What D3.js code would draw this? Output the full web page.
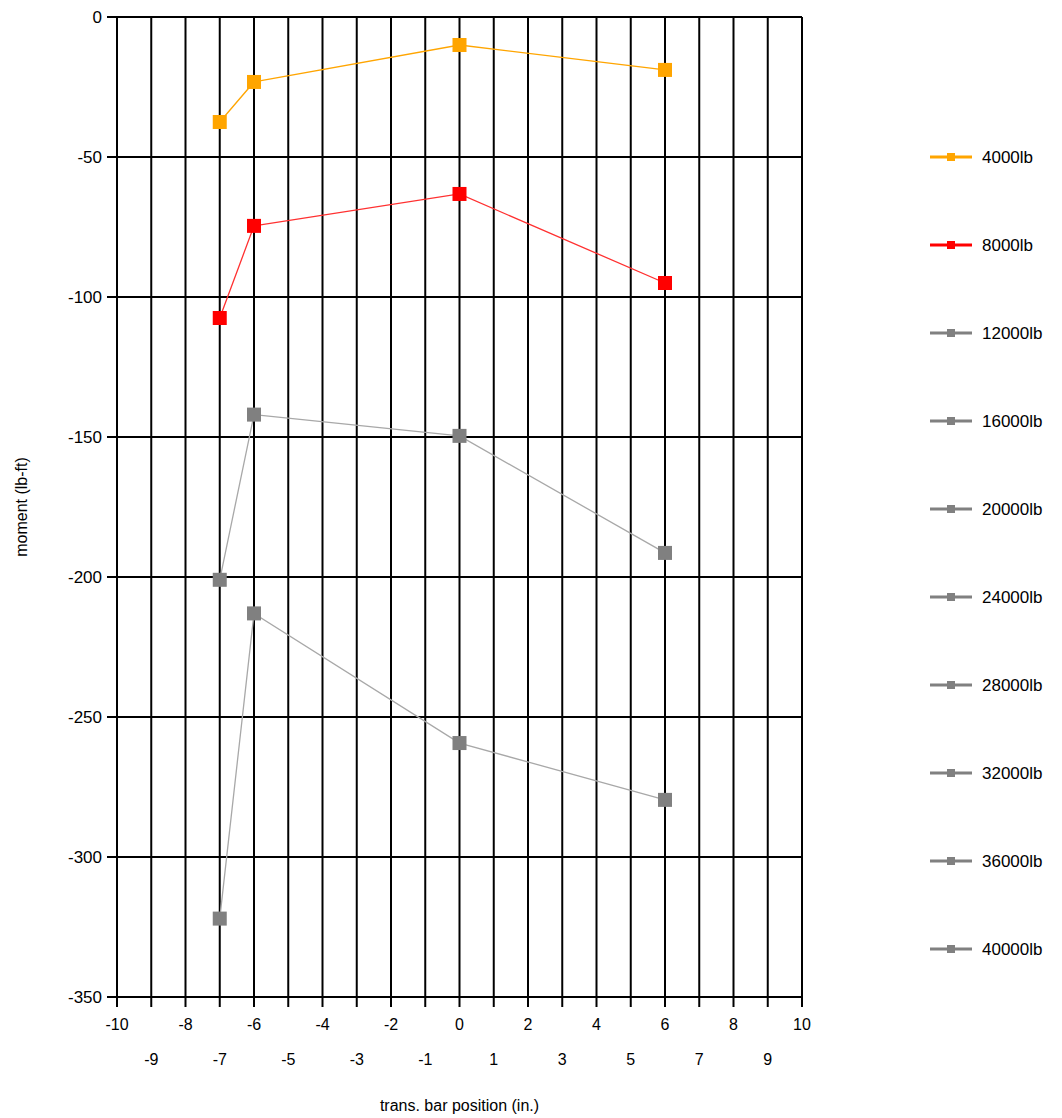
<!DOCTYPE html>
<html>
<head>
<meta charset="utf-8">
<script src="https://cdn.jsdelivr.net/npm/d3@7"></script>
<style>
  body { margin: 0; background: #fff; }
  svg text { font-family: "Liberation Sans", Arial, sans-serif; font-size: 16px; fill: #000; }
</style>
</head>
<body>
<svg id="chart" width="1062" height="1118"></svg>
<script>
// data
const positions = [-7, -6, 0, 6];
const seriesNames = ["4000lb", "8000lb", "12000lb", "16000lb", "20000lb", "24000lb", "28000lb", "32000lb", "36000lb", "40000lb"];
const seriesColors = ["#ffa500", "#ff0000", "#808080", "#808080", "#808080", "#808080", "#808080", "#808080", "#808080", "#808080"];
const lineColors = ["#ffa500", "#ff3030", "#a8a8a8", "#a8a8a8", "#a8a8a8", "#a8a8a8", "#a8a8a8", "#a8a8a8", "#a8a8a8", "#a8a8a8"];
const s4000 = [-37.5, -23.2, -10, -18.9];
const s8000 = [-107.5, -74.6, -63.2, -95];
const s12000 = [-201, -142, -149.6, -191.4];
const s16000 = [-322, -213, -259.3, -279.6];
const seriesValues = [s4000, s8000, s12000, s16000, [], [], [], [], [], []];
const xTicks = d3.range(-10, 11);
const yTicks = [0, -50, -100, -150, -200, -250, -300, -350];

const svg = d3.select("#chart");
const plotLeft = 117, plotRight = 802, plotTop = 17, plotBottom = 997;

const x = d3.scaleLinear().domain([-10, 10]).range([plotLeft, plotRight]);
const y = d3.scaleLinear().domain([-350, 0]).range([plotBottom, plotTop]);

// grid
const grid = svg.append("g");
grid.selectAll("line.v").data(xTicks).join("line")
  .attr("class", "v")
  .attr("x1", d => x(d)).attr("x2", d => x(d))
  .attr("y1", plotTop).attr("y2", plotBottom + 10)
  .attr("stroke", "#000").attr("stroke-width", 2);
grid.selectAll("line.h").data(yTicks).join("line")
  .attr("class", "h")
  .attr("x1", plotLeft - 10).attr("x2", plotRight)
  .attr("y1", d => y(d)).attr("y2", d => y(d))
  .attr("stroke", "#000").attr("stroke-width", 2);

// y labels
svg.append("g").selectAll("text").data(yTicks).join("text")
  .attr("x", 102).attr("y", d => y(d) + 6)
  .attr("text-anchor", "end")
  .style("font-size", "17px")
  .text(d => d);

// x labels, two rows
svg.append("g").selectAll("text").data(xTicks).join("text")
  .attr("x", d => x(d))
  .attr("y", d => (d % 2 === 0) ? 1030 : 1065)
  .attr("text-anchor", "middle")
  .text(d => d);

// axis titles
svg.append("text")
  .attr("transform", `translate(27,${(plotTop + plotBottom) / 2}) rotate(-90)`)
  .attr("text-anchor", "middle")
  .text("moment (lb-ft)");
svg.append("text")
  .attr("x", (plotLeft + plotRight) / 2).attr("y", 1111)
  .attr("text-anchor", "middle")
  .text("trans. bar position (in.)");

// series
const line = d3.line().x(d => x(d.p)).y(d => y(d.v));
seriesValues.forEach((vals, i) => {
  const pts = vals.map((v, j) => ({ p: positions[j], v: v }));
  if (!pts.length) return;
  svg.append("path").datum(pts)
    .attr("d", line)
    .attr("fill", "none")
    .attr("stroke", lineColors[i])
    .attr("stroke-width", 1.3);
  svg.append("g").selectAll("rect").data(pts).join("rect")
    .attr("x", d => x(d.p) - 7).attr("y", d => y(d.v) - 7)
    .attr("width", 14).attr("height", 14)
    .attr("fill", seriesColors[i]);
});

// legend
const legend = svg.append("g");
seriesNames.forEach((name, i) => {
  const ly = 157 + i * 88;
  legend.append("line")
    .attr("x1", 930).attr("x2", 972).attr("y1", ly).attr("y2", ly)
    .attr("stroke", seriesColors[i]).attr("stroke-width", 3);
  legend.append("rect")
    .attr("x", 947).attr("y", ly - 4).attr("width", 8).attr("height", 8)
    .attr("fill", seriesColors[i]);
  legend.append("text")
    .attr("x", 982).attr("y", ly + 6)
    .style("font-size", "17px")
    .text(name);
});
</script>
</body>
</html>
